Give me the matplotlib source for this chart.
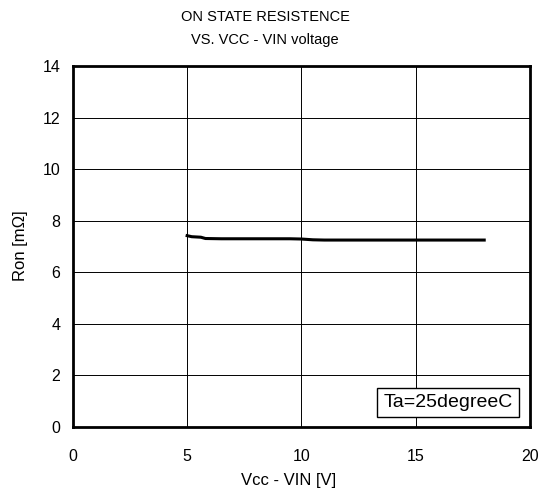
import matplotlib.pyplot as plt

plt.rcParams['font.family'] = ['Liberation Sans', 'DejaVu Sans']

# Ron vs (Vcc - VIN)
vcc_vin = [5.0, 5.2, 5.4, 5.6, 5.8, 6.5, 7.5, 8.5, 9.5, 10.0, 10.5, 11.0, 12.0, 13.0, 14.0, 15.0, 16.0, 17.0, 18.0]
ron = [7.42, 7.38, 7.37, 7.36, 7.31, 7.30, 7.30, 7.30, 7.30, 7.29, 7.26, 7.25, 7.25, 7.25, 7.25, 7.25, 7.25, 7.25, 7.25]

x_ticks = [0, 5, 10, 15, 20]
y_ticks = [0, 2, 4, 6, 8, 10, 12, 14]

fig = plt.figure(figsize=(5.48, 5.0), dpi=100)
ax = fig.add_axes([0.133, 0.146, 0.834, 0.722])

ax.plot(vcc_vin, ron, color='black', linewidth=2.2, zorder=3)

ax.set_xlim(0, 20)
ax.set_ylim(0, 14)
ax.set_xticks(x_ticks)
ax.set_yticks(y_ticks)
ax.tick_params(length=0, labelsize=11.5)
ax.tick_params(axis='x', pad=16)
ax.tick_params(axis='y', pad=9)
ax.grid(True, color='black', linewidth=0.7)
for s in ax.spines.values():
    s.set_linewidth(2.0)

# titles and labels placed in figure coords to match the original layout
fig.text(0.484, 0.966, 'ON STATE RESISTENCE', ha='center', va='center', fontsize=10.5)
fig.text(0.484, 0.920, 'VS. VCC - VIN voltage', ha='center', va='center', fontsize=10.5)
fig.text(0.527, 0.040, 'Vcc - VIN [V]', ha='center', va='center', fontsize=12)
fig.text(0.038, 0.508, 'Ron [m\u03a9]', ha='center', va='center', rotation=90, fontsize=12)

ax.text(0.962, 0.045, 'Ta=25degreeC', transform=ax.transAxes, ha='right', va='bottom',
        fontsize=14, bbox=dict(boxstyle='square,pad=0.32', facecolor='white', edgecolor='black', linewidth=1.0),
        zorder=4)

plt.savefig('out.png')
